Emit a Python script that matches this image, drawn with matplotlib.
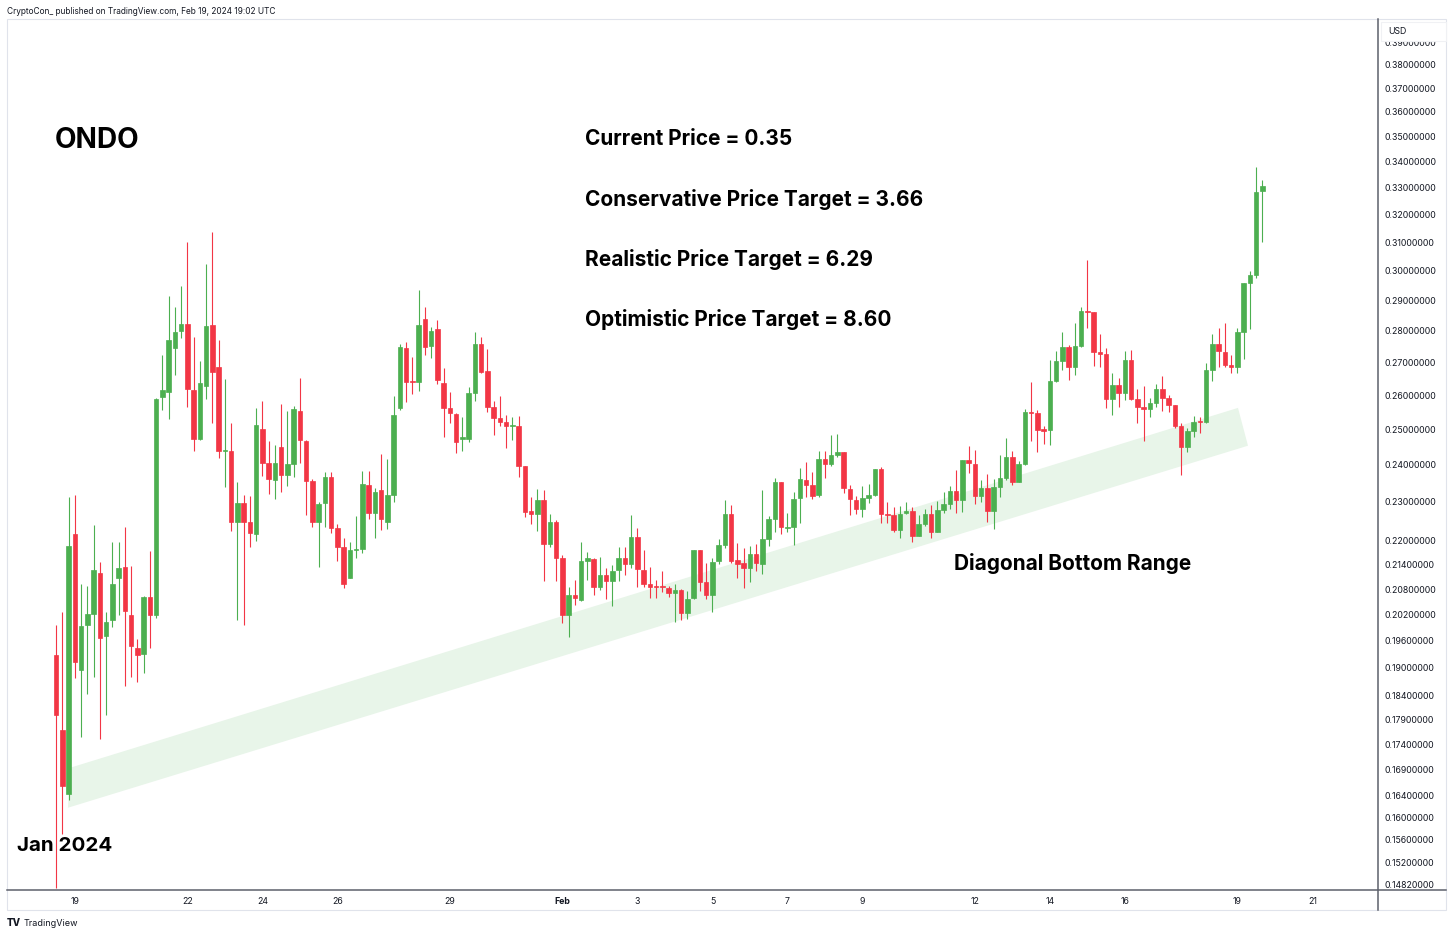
import numpy as np
import pandas as pd
import matplotlib
matplotlib.use("Agg")
import matplotlib.pyplot as plt
import matplotlib.dates as mdates
from matplotlib.patches import Polygon, Rectangle
from matplotlib.lines import Line2D

plt.rcParams["font.family"] = ["Inter", "DejaVu Sans"]

# ONDO/USD 4h candles, 18 Jan 12:00 -> 19 Feb 16:00
opens = [
    0.1929, 0.1769, 0.1644, 0.2215, 0.1896, 0.1997, 0.2022, 0.2120, 0.1970, 0.2007,
    0.2107, 0.2133, 0.2020, 0.1945, 0.1931, 0.2062, 0.2020, 0.2593, 0.2609, 0.2745,
    0.2798, 0.2822, 0.2616, 0.2471, 0.2628, 0.2818, 0.2685, 0.2439, 0.2437, 0.2246,
    0.2296, 0.2246, 0.2216, 0.2502, 0.2406, 0.2359, 0.2448, 0.2373, 0.2402, 0.2553,
    0.2467, 0.2356, 0.2248, 0.2296, 0.2366, 0.2231, 0.2184, 0.2108, 0.2176, 0.2178,
    0.2345, 0.2271, 0.2330, 0.2248, 0.2319, 0.2561, 0.2746, 0.2643, 0.2639, 0.2837,
    0.2750, 0.2804, 0.2637, 0.2563, 0.2544, 0.2473, 0.2473, 0.2605, 0.2757, 0.2674,
    0.2566, 0.2532, 0.2521, 0.2509, 0.2510, 0.2396, 0.2275, 0.2267, 0.2305, 0.2191,
    0.2247, 0.2155, 0.2020, 0.2067, 0.2055, 0.2149, 0.2154, 0.2086, 0.2114, 0.2100,
    0.2127, 0.2157, 0.2141, 0.2208, 0.2127, 0.2092, 0.2088, 0.2088, 0.2084, 0.2070,
    0.2078, 0.2024, 0.2059, 0.2176, 0.2097, 0.2067, 0.2149, 0.2188, 0.2269, 0.2151,
    0.2143, 0.2131, 0.2166, 0.2141, 0.2203, 0.2254, 0.2354, 0.2231, 0.2233, 0.2309,
    0.2359, 0.2345, 0.2317, 0.2415, 0.2401, 0.2427, 0.2435, 0.2334, 0.2305, 0.2280,
    0.2310, 0.2319, 0.2388, 0.2269, 0.2265, 0.2227, 0.2271, 0.2276, 0.2211, 0.2242,
    0.2268, 0.2222, 0.2278, 0.2294, 0.2329, 0.2305, 0.2413, 0.2401, 0.2316, 0.2336,
    0.2276, 0.2338, 0.2363, 0.2422, 0.2354, 0.2402, 0.2551, 0.2546, 0.2500, 0.2498,
    0.2643, 0.2704, 0.2748, 0.2686, 0.2751, 0.2864, 0.2860, 0.2732, 0.2726, 0.2588,
    0.2631, 0.2605, 0.2707, 0.2589, 0.2566, 0.2558, 0.2576, 0.2618, 0.2591, 0.2571,
    0.2508, 0.2449, 0.2494, 0.2524, 0.2522, 0.2676, 0.2757, 0.2732, 0.2692, 0.2686,
    0.2794, 0.2956, 0.2984, 0.3288,
]
highs = [
    0.1997, 0.2027, 0.2313, 0.2318, 0.2093, 0.2088, 0.2239, 0.2146, 0.2027, 0.2195,
    0.2195, 0.2233, 0.2136, 0.1964, 0.2065, 0.2173, 0.2590, 0.2723, 0.2912, 0.2878,
    0.2947, 0.3099, 0.2780, 0.2705, 0.3023, 0.3137, 0.2769, 0.2649, 0.2519, 0.2353,
    0.2318, 0.2314, 0.2563, 0.2583, 0.2465, 0.2455, 0.2573, 0.2552, 0.2568, 0.2651,
    0.2468, 0.2362, 0.2300, 0.2379, 0.2379, 0.2241, 0.2206, 0.2197, 0.2263, 0.2382,
    0.2382, 0.2336, 0.2430, 0.2416, 0.2598, 0.2757, 0.2764, 0.2716, 0.2934, 0.2876,
    0.2813, 0.2833, 0.2681, 0.2610, 0.2546, 0.2536, 0.2625, 0.2795, 0.2779, 0.2740,
    0.2581, 0.2598, 0.2541, 0.2536, 0.2539, 0.2396, 0.2312, 0.2335, 0.2330, 0.2268,
    0.2252, 0.2164, 0.2086, 0.2102, 0.2197, 0.2172, 0.2155, 0.2159, 0.2131, 0.2139,
    0.2184, 0.2184, 0.2265, 0.2231, 0.2176, 0.2135, 0.2102, 0.2125, 0.2088, 0.2092,
    0.2080, 0.2076, 0.2176, 0.2176, 0.2143, 0.2155, 0.2203, 0.2305, 0.2292, 0.2194,
    0.2180, 0.2187, 0.2190, 0.2330, 0.2263, 0.2363, 0.2354, 0.2271, 0.2325, 0.2392,
    0.2407, 0.2379, 0.2439, 0.2439, 0.2484, 0.2487, 0.2435, 0.2345, 0.2314, 0.2343,
    0.2347, 0.2388, 0.2393, 0.2300, 0.2287, 0.2289, 0.2298, 0.2287, 0.2265, 0.2280,
    0.2292, 0.2302, 0.2325, 0.2341, 0.2386, 0.2413, 0.2453, 0.2441, 0.2359, 0.2375,
    0.2361, 0.2427, 0.2475, 0.2439, 0.2411, 0.2558, 0.2640, 0.2556, 0.2508, 0.2707,
    0.2735, 0.2797, 0.2754, 0.2824, 0.2878, 0.3037, 0.2862, 0.2789, 0.2746, 0.2666,
    0.2651, 0.2735, 0.2738, 0.2617, 0.2627, 0.2590, 0.2633, 0.2658, 0.2601, 0.2571,
    0.2518, 0.2503, 0.2539, 0.2536, 0.2697, 0.2789, 0.2808, 0.2824, 0.2722, 0.2808,
    0.2958, 0.2998, 0.3378, 0.3330,
]
lows = [
    0.1475, 0.1569, 0.1633, 0.1878, 0.1755, 0.1844, 0.1881, 0.1750, 0.1801, 0.1992,
    0.2020, 0.1860, 0.1881, 0.1869, 0.1888, 0.1943, 0.2012, 0.2557, 0.2530, 0.2661,
    0.2777, 0.2565, 0.2439, 0.2468, 0.2587, 0.2517, 0.2419, 0.2339, 0.2225, 0.2007,
    0.1997, 0.2184, 0.2198, 0.2368, 0.2320, 0.2308, 0.2327, 0.2341, 0.2365, 0.2406,
    0.2265, 0.2233, 0.2134, 0.2233, 0.2219, 0.2149, 0.2082, 0.2106, 0.2155, 0.2168,
    0.2254, 0.2207, 0.2227, 0.2229, 0.2300, 0.2556, 0.2579, 0.2603, 0.2613, 0.2722,
    0.2712, 0.2633, 0.2477, 0.2518, 0.2432, 0.2439, 0.2464, 0.2581, 0.2668, 0.2551,
    0.2482, 0.2508, 0.2447, 0.2470, 0.2366, 0.2260, 0.2242, 0.2225, 0.2100, 0.2184,
    0.2100, 0.2000, 0.1969, 0.2043, 0.2053, 0.2102, 0.2067, 0.2078, 0.2057, 0.2040,
    0.2100, 0.2114, 0.2131, 0.2086, 0.2086, 0.2059, 0.2059, 0.2074, 0.2061, 0.2002,
    0.2008, 0.2010, 0.2057, 0.2076, 0.2057, 0.2026, 0.2141, 0.2180, 0.2143, 0.2108,
    0.2084, 0.2098, 0.2125, 0.2117, 0.2187, 0.2221, 0.2217, 0.2222, 0.2188, 0.2244,
    0.2312, 0.2307, 0.2312, 0.2363, 0.2397, 0.2422, 0.2322, 0.2265, 0.2268, 0.2259,
    0.2296, 0.2316, 0.2244, 0.2245, 0.2222, 0.2205, 0.2268, 0.2197, 0.2211, 0.2237,
    0.2206, 0.2222, 0.2271, 0.2280, 0.2271, 0.2274, 0.2377, 0.2293, 0.2300, 0.2248,
    0.2229, 0.2312, 0.2359, 0.2345, 0.2352, 0.2399, 0.2465, 0.2436, 0.2458, 0.2455,
    0.2638, 0.2676, 0.2646, 0.2661, 0.2748, 0.2808, 0.2688, 0.2686, 0.2561, 0.2541,
    0.2564, 0.2586, 0.2586, 0.2518, 0.2465, 0.2535, 0.2564, 0.2553, 0.2551, 0.2503,
    0.2373, 0.2436, 0.2477, 0.2489, 0.2519, 0.2643, 0.2684, 0.2684, 0.2666, 0.2666,
    0.2709, 0.2804, 0.2974, 0.3101,
]
closes = [
    0.1800, 0.1658, 0.2186, 0.1914, 0.1994, 0.2022, 0.2126, 0.1967, 0.2002, 0.2093,
    0.2131, 0.2029, 0.1948, 0.1929, 0.2062, 0.2020, 0.2587, 0.2615, 0.2769, 0.2797,
    0.2822, 0.2619, 0.2471, 0.2636, 0.2815, 0.2669, 0.2439, 0.2442, 0.2246, 0.2296,
    0.2248, 0.2219, 0.2511, 0.2406, 0.2362, 0.2406, 0.2373, 0.2402, 0.2559, 0.2468,
    0.2356, 0.2248, 0.2294, 0.2366, 0.2231, 0.2184, 0.2093, 0.2176, 0.2179, 0.2347,
    0.2271, 0.2326, 0.2254, 0.2319, 0.2541, 0.2748, 0.2639, 0.2640, 0.2819, 0.2748,
    0.2800, 0.2644, 0.2563, 0.2548, 0.2464, 0.2479, 0.2605, 0.2757, 0.2671, 0.2566,
    0.2532, 0.2522, 0.2510, 0.2512, 0.2396, 0.2273, 0.2267, 0.2305, 0.2191, 0.2247,
    0.2155, 0.2020, 0.2067, 0.2059, 0.2149, 0.2155, 0.2086, 0.2114, 0.2100, 0.2125,
    0.2157, 0.2141, 0.2208, 0.2129, 0.2092, 0.2086, 0.2086, 0.2085, 0.2070, 0.2078,
    0.2024, 0.2057, 0.2176, 0.2097, 0.2067, 0.2147, 0.2188, 0.2269, 0.2149, 0.2141,
    0.2131, 0.2166, 0.2143, 0.2203, 0.2254, 0.2354, 0.2233, 0.2234, 0.2308, 0.2361,
    0.2345, 0.2316, 0.2415, 0.2401, 0.2427, 0.2435, 0.2336, 0.2307, 0.2280, 0.2310,
    0.2319, 0.2388, 0.2269, 0.2265, 0.2227, 0.2269, 0.2276, 0.2211, 0.2242, 0.2268,
    0.2222, 0.2278, 0.2294, 0.2329, 0.2305, 0.2413, 0.2404, 0.2316, 0.2336, 0.2276,
    0.2338, 0.2363, 0.2422, 0.2354, 0.2402, 0.2551, 0.2546, 0.2498, 0.2496, 0.2643,
    0.2704, 0.2748, 0.2686, 0.2751, 0.2864, 0.2862, 0.2732, 0.2727, 0.2588, 0.2631,
    0.2605, 0.2707, 0.2589, 0.2566, 0.2558, 0.2576, 0.2618, 0.2591, 0.2571, 0.2508,
    0.2449, 0.2494, 0.2522, 0.2521, 0.2676, 0.2757, 0.2735, 0.2692, 0.2686, 0.2794,
    0.2956, 0.2984, 0.3284, 0.3305,
]
start_time = "2024-01-18 12:00"

# hand-drawn "Diagonal Bottom Range" band (corner times / prices)
band_times = ["2024-01-18 20:48", "2024-02-19 00:19", "2024-02-19 06:43", "2024-01-18 19:31"]
band_prices = [0.1694, 0.2562, 0.2453, 0.1618]

price_ticks = [0.39, 0.38, 0.37, 0.36, 0.35, 0.34, 0.33, 0.32, 0.31, 0.30, 0.29, 0.28,
               0.27, 0.26, 0.25, 0.24, 0.23, 0.22, 0.214, 0.208, 0.202, 0.196, 0.19,
               0.184, 0.179, 0.174, 0.169, 0.164, 0.16, 0.156, 0.152, 0.1482]
date_ticks = ["2024-01-19", "2024-01-22", "2024-01-24", "2024-01-26", "2024-01-29",
              "2024-02-01", "2024-02-03", "2024-02-05", "2024-02-07", "2024-02-09",
              "2024-02-12", "2024-02-14", "2024-02-16", "2024-02-19", "2024-02-21"]
date_labels = ["19", "22", "24", "26", "29", "Feb", "3", "5", "7", "9",
               "12", "14", "16", "19", "21"]

targets = ["Current Price = 0.35", "Conservative Price Target = 3.66",
           "Realistic Price Target = 6.29", "Optimistic Price Target = 8.60"]

GREEN = "#4caf50"
RED = "#f23645"
BAND = "#e8f5e9"
TXT = "#131722"
DARK = "#5d606b"
LIGHT = "#e0e3eb"

W, H = 1456, 936


def fx(px):
    return px / W


def fy(py):
    return 1 - py / H


o = np.array(opens)
h = np.array(highs)
l = np.array(lows)
c = np.array(closes)
t = mdates.date2num(pd.date_range(start_time, periods=len(o), freq="4h"))

fig = plt.figure(figsize=(W / 100, H / 100), dpi=100)
ax = fig.add_axes([fx(7), fy(890), fx(1378 - 7), (890 - 19) / H])

colors = np.where(c >= o, GREEN, RED)
band = Polygon(list(zip(mdates.date2num(pd.to_datetime(band_times)), band_prices)),
               closed=True, facecolor=BAND, edgecolor="none", zorder=1)
ax.add_patch(band)
ax.vlines(t, l, h, colors=colors, linewidth=0.8, zorder=2)
ax.bar(t, np.abs(c - o), bottom=np.minimum(o, c), width=0.12, color=colors,
       edgecolor=colors, linewidth=0.5, zorder=3)

ax.set_yscale("log")
ax.set_ylim(0.1472, 0.4006)
t0 = mdates.date2num(pd.Timestamp("2024-01-19"))
ax.set_xlim(t0 - 1.8133, t0 + 34.7467)

ax.yaxis.tick_right()
ax.yaxis.set_minor_locator(plt.NullLocator())
ax.set_yticks(price_ticks)
ax.set_yticklabels([f"{v:.8f}" for v in price_ticks])
ax.tick_params(axis="y", length=0, pad=5, labelsize=6.3, labelcolor=TXT)

ax.set_xticks(mdates.date2num(pd.to_datetime(date_ticks)))
ax.set_xticklabels(date_labels)
ax.xaxis.set_minor_locator(plt.NullLocator())
ax.tick_params(axis="x", length=0, pad=5, labelsize=6.3, labelcolor=TXT)
for lab in ax.get_xticklabels():
    if lab.get_text() == "Feb":
        lab.set_fontweight("bold")

for s in ax.spines.values():
    s.set_visible(False)

# frame lines of the TradingView snapshot
fig.patches.append(Rectangle((fx(7), fy(910)), fx(1446 - 7), (910 - 19) / H,
                             transform=fig.transFigure, fill=False,
                             edgecolor=LIGHT, linewidth=0.8))
fig.lines.append(Line2D([fx(1378), fx(1378)], [fy(19), fy(910)],
                        transform=fig.transFigure, color=DARK, linewidth=1.1))
fig.lines.append(Line2D([fx(7), fx(1446)], [fy(890), fy(890)],
                        transform=fig.transFigure, color=DARK, linewidth=1.1))
fig.patches.append(Rectangle((fx(1381), fy(41)), fx(1446 - 1381), 19 / H,
                             transform=fig.transFigure, facecolor="white",
                             edgecolor="#f0f1f4", linewidth=0.8, zorder=5))
fig.text(fx(1388), fy(31), "USD", fontsize=6.3, color=TXT, va="center", zorder=6)

fig.text(fx(7), fy(11), "CryptoCon_ published on TradingView.com, Feb 19, 2024 19:02 UTC",
         fontsize=6.0, color=TXT, va="center")
fig.text(fx(7), fy(923), "TV", fontsize=7, weight="heavy", color=TXT, va="center")
fig.text(fx(24), fy(923), "TradingView", fontsize=6.5, color=TXT, va="center")

fig.text(fx(55), fy(140), "ONDO", fontsize=20.2, weight="bold", color="black", va="center")
for i, s in enumerate(targets):
    fig.text(fx(585), fy(139 + 60 * i), s, fontsize=15, weight="bold",
             color="black", va="center")
fig.text(fx(17), fy(846), "Jan 2024", fontsize=14.8, weight="bold", color="black", va="center")
fig.text(fx(954), fy(563), "Diagonal Bottom Range", fontsize=15, weight="bold",
         color="black", va="center")

fig.savefig("out.png", dpi=100)
